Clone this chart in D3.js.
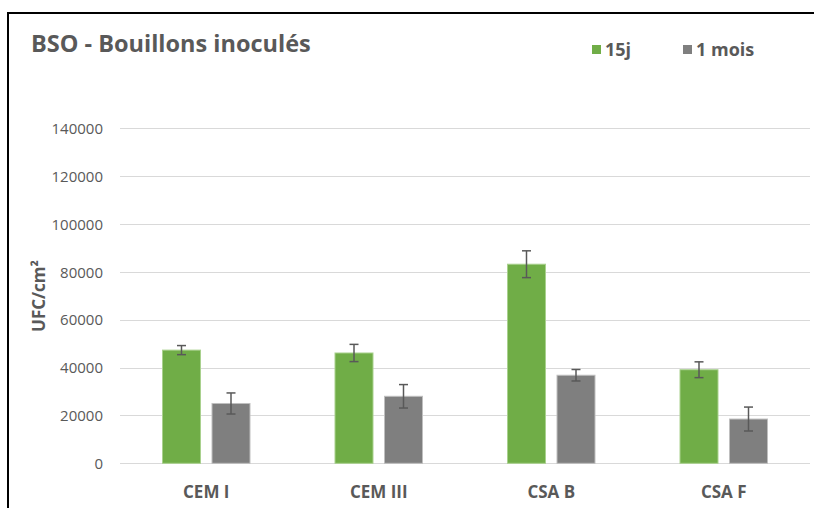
<!DOCTYPE html>
<html>
<head>
<meta charset="utf-8">
<script src="https://cdn.jsdelivr.net/npm/d3@7"></script>
<style>
  html, body { margin: 0; padding: 0; background: #ffffff; }
  svg { display: block; }
  svg text { font-family: "Open Sans", sans-serif; }
</style>
</head>
<body>
<script>
// ---- Data ----
const categories = ["CEM I", "CEM III", "CSA B", "CSA F"];
const seriesNames = ["15j", "1 mois"];
const values15j = [47300, 46100, 83200, 39100];
const values1mois = [25000, 28000, 36800, 18500];
const errors15j = [1900, 3600, 5600, 3300];
const errors1mois = [4400, 4900, 2400, 5000];
const yTicks = [0, 20000, 40000, 60000, 80000, 100000, 120000, 140000];
const title = "BSO - Bouillons inoculés";
const yTitle = "UFC/cm²";

// ---- Layout ----
const W = 814, H = 508;
const colors = ["#70AD47", "#7F7F7F"];
const outline = ["#A9D18E", "#BFBFBF"];
const plotLeft = 120, plotRight = 810, plotTop = 128.3, plotBottom = 463.3;
const FONT = "'Open Sans', sans-serif";

const svg = d3.select("body").append("svg").attr("width", W).attr("height", H);

// Frame (chart border, clipped by the window on the right and bottom)
svg.append("rect").attr("x", 8).attr("y", 13).attr("width", 900).attr("height", 600)
  .attr("fill", "none").attr("stroke", "#000").attr("stroke-width", 2);

const y = d3.scaleLinear().domain([0, 140000]).range([plotBottom, plotTop]);
const x0 = d3.scaleBand().domain(categories).range([plotLeft, plotRight]).paddingInner(0).paddingOuter(0);
const barW = 38, gap = 11.5;

// Gridlines
svg.append("g").selectAll("line").data(yTicks).join("line")
  .attr("x1", plotLeft).attr("x2", plotRight)
  .attr("y1", d => Math.round(y(d)) + 0.5).attr("y2", d => Math.round(y(d)) + 0.5)
  .attr("stroke", "#D9D9D9").attr("stroke-width", 1);

// Y axis labels
const yAxis = d3.axisLeft(y).tickValues(yTicks).tickFormat(d3.format("d")).tickSize(0).tickPadding(0);
const yg = svg.append("g").attr("transform", `translate(103,0)`).call(yAxis);
yg.select(".domain").remove();
yg.attr("font-family", FONT);
yg.selectAll("text").attr("fill", "#595959").style("font-size", "15px")
  .style("font-family", FONT).attr("dy", "0.35em");

// Bars
const series = [values15j, values1mois];
const errs = [errors15j, errors1mois];
series.forEach((vals, s) => {
  const xOff = d => x0(d) + x0.bandwidth() / 2 - (barW * 2 + gap) / 2 + s * (barW + gap);
  const g = svg.append("g");
  g.selectAll("rect").data(categories).join("rect")
    .attr("x", d => xOff(d)).attr("width", barW)
    .attr("y", (d, i) => y(vals[i])).attr("height", (d, i) => y(0) - y(vals[i]))
    .attr("fill", colors[s]).attr("stroke", outline[s]).attr("stroke-width", 1);
  // Error bars
  const eg = svg.append("g").attr("stroke", "#595959").attr("stroke-width", 1.5);
  categories.forEach((d, i) => {
    const cx = xOff(d) + barW / 2;
    const top = y(vals[i] + errs[s][i]), bot = y(vals[i] - errs[s][i]);
    eg.append("line").attr("x1", cx).attr("x2", cx).attr("y1", top).attr("y2", bot);
    eg.append("line").attr("x1", cx - 4.5).attr("x2", cx + 4.5).attr("y1", top).attr("y2", top);
    eg.append("line").attr("x1", cx - 4.5).attr("x2", cx + 4.5).attr("y1", bot).attr("y2", bot);
  });
});

// X labels
const xAxis = d3.axisBottom(x0).tickSize(0).tickPadding(0);
const xg = svg.append("g").attr("transform", `translate(0,498)`).call(xAxis);
xg.select(".domain").remove();
xg.attr("font-family", FONT);
xg.selectAll("text").attr("fill", "#595959").attr("dy", "0").attr("y", 0)
  .style("font-family", FONT).style("font-size", "17px").style("font-weight", "bold");

// Title
svg.append("text").attr("x", 31).attr("y", 52).text(title)
  .attr("fill", "#595959").style("font-size", "23.5px").style("font-weight", "bold");

// Y title
svg.append("text").attr("transform", "translate(45,296) rotate(-90)")
  .attr("text-anchor", "middle").text(yTitle)
  .attr("fill", "#595959").style("font-size", "17px").style("font-weight", "bold");

// Legend
const legX = [592, 683];
seriesNames.forEach((n, s) => {
  svg.append("rect").attr("x", legX[s]).attr("y", 45).attr("width", 9).attr("height", 9).attr("fill", colors[s]);
  svg.append("text").attr("x", legX[s] + 13).attr("y", 56).text(n)
    .attr("fill", "#595959").style("font-size", "18px").style("font-weight", "bold");
});
</script>
</body>
</html>
